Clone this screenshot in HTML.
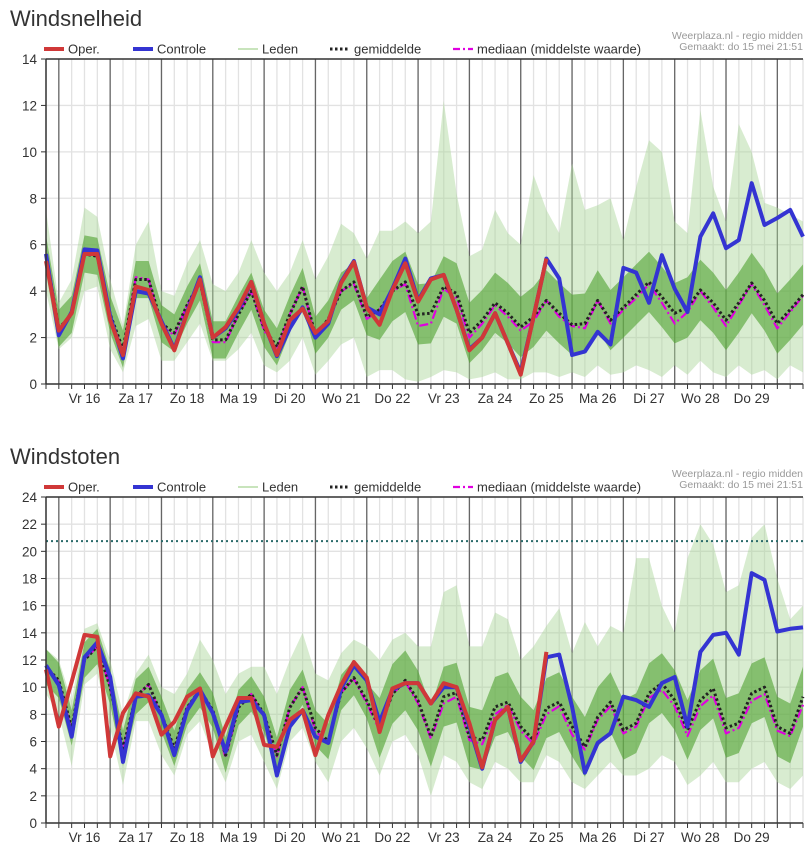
<!DOCTYPE html>
<html><head><meta charset="utf-8">
<style>
html,body{margin:0;padding:0;background:#fff;}
svg{display:block;font-family:"Liberation Sans",sans-serif;}
</style></head>
<body>
<svg id="root" width="805" height="849" viewBox="0 0 805 849" xmlns="http://www.w3.org/2000/svg"></svg>
<script>
// ---------- shared data ----------
const dayLabels = ["Vr 16","Za 17","Zo 18","Ma 19","Di 20","Wo 21","Do 22","Vr 23","Za 24","Zo 25","Ma 26","Di 27","Wo 28","Do 29"];
const ticks1 = [0,2,4,6,8,10,12,14];
const ticks2 = [0,2,4,6,8,10,12,14,16,18,20,22,24];
// ---------- Windsnelheid ----------
const oper1 = [5.3,2.3,3.05,5.6,5.6,2.75,1.25,4.2,4.05,2.6,1.45,3.05,4.5,2.0,2.45,3.3,4.4,2.6,1.25,2.75,3.25,2.2,2.7,4.35,5.25,3.3,2.55,4.05,5.2,3.55,4.5,4.7,3.2,1.45,2.0,3.05,1.75,0.4,2.9,5.4];
const ctrl1 = [5.6,2.1,3.1,5.8,5.75,2.9,1.1,4.0,3.9,2.7,1.5,3.1,4.6,2.0,2.4,3.2,4.4,2.6,1.2,2.4,3.3,2.0,2.6,4.4,5.3,3.3,3.0,4.1,5.4,3.6,4.55,4.7,3.2,1.5,2.0,3.05,1.75,0.5,2.9,5.4,4.55,1.25,1.4,2.25,1.7,5.0,4.8,3.5,5.55,4.1,3.1,6.35,7.35,5.85,6.2,8.65,6.85,7.15,7.5,6.35];
const mean1 = [5.6,2.4,3.0,5.6,5.5,3.0,1.5,4.5,4.5,2.6,2.2,3.4,4.4,1.9,1.9,3.0,4.0,2.4,1.6,3.0,4.2,2.1,2.8,4.0,4.4,2.9,3.2,4.0,4.4,3.0,3.05,4.2,3.9,2.2,2.75,3.5,3.05,2.45,2.9,3.6,3.05,2.55,2.6,3.6,2.75,3.3,3.85,4.4,3.75,3.05,3.3,4.05,3.5,2.75,3.5,4.35,3.6,2.6,3.2,3.85];
const median1 = [5.6,2.3,3.0,5.6,5.5,2.9,1.4,4.6,4.5,2.5,2.1,3.4,4.4,1.8,1.8,3.0,4.0,2.3,1.5,3.0,4.2,2.0,2.8,4.0,4.3,2.8,3.2,4.0,4.3,2.5,2.6,4.1,3.7,2.0,2.6,3.4,2.9,2.3,2.7,3.6,2.9,2.5,2.4,3.6,2.6,3.2,3.7,4.3,3.5,2.6,3.1,4.0,3.3,2.5,3.4,4.3,3.4,2.4,3.1,3.8];
const hi1 = [7.5,3.5,4.5,7.6,7.2,4.5,2.5,6.0,7.0,4.0,3.8,5.2,6.2,4.3,4.0,4.8,6.2,4.8,4.0,4.8,6.2,4.5,5.5,6.9,6.5,5.4,6.6,6.6,7.0,6.5,7.0,12.2,8.2,5.5,5.8,7.5,6.5,6.0,9.0,7.5,6.5,9.5,7.5,7.7,8.0,6.2,8.5,10.5,10.0,7.0,6.5,11.8,8.5,7.0,11.2,10.0,7.8,7.6,7.3,7.0];
const lo1 = [4.0,1.5,2.0,4.0,4.2,1.5,0.5,2.5,2.8,1.0,1.0,1.8,2.6,1.0,1.0,1.5,2.2,0.8,0.5,1.0,2.0,0.4,1.0,1.7,2.0,0.3,0.6,0.6,0.2,0.1,0.3,0.6,0.5,0.2,0.3,0.5,0.2,0.2,0.5,0.5,0.3,0.5,0.3,0.8,0.4,0.5,0.8,0.6,0.3,0.8,0.4,1.0,0.5,0.3,0.8,0.4,0.6,0.2,0.8,0.5];
// ---------- Windstoten ----------
const oper2 = [11.3,7.1,10.4,13.85,13.7,4.9,8.1,9.55,9.3,6.5,7.45,9.3,9.9,4.9,7.1,9.2,9.2,5.75,5.6,7.6,8.3,5.0,7.95,10.15,11.85,10.7,6.7,9.9,10.3,10.3,8.8,10.3,10.0,7.35,4.1,7.6,8.55,4.6,6.0,12.6];
const ctrl2 = [11.6,10.15,6.35,12.2,13.3,10.75,4.5,9.3,9.4,7.95,5.0,8.3,9.8,8.1,5.25,8.9,9.05,7.95,3.5,7.1,8.3,6.35,5.9,9.9,11.6,10.5,7.45,9.8,10.3,10.3,8.8,10.0,10.0,7.1,4.0,7.6,8.55,4.5,6.0,12.2,12.4,8.55,3.7,5.9,6.6,9.3,9.05,8.55,10.3,10.75,7.1,12.6,13.85,14.0,12.4,18.4,17.9,14.1,14.3,14.4];
const mean2 = [11.5,10.5,7.0,12.0,13.0,10.0,5.5,9.3,10.2,8.0,5.5,8.5,9.8,8.3,5.0,8.5,9.5,8.0,5.0,8.5,10.0,7.0,6.0,9.6,10.7,9.0,7.0,9.5,10.5,9.0,6.35,9.3,9.6,6.35,6.1,8.55,8.9,7.1,6.1,8.45,8.9,7.1,5.6,7.8,8.9,6.85,7.35,9.55,10.3,9.05,6.85,9.05,9.9,7.0,7.35,9.55,10.0,7.1,6.6,9.3];
const median2 = [11.6,10.4,6.8,12.0,13.0,10.0,5.3,9.3,10.2,7.8,5.3,8.5,9.8,8.1,4.8,8.5,9.5,7.8,4.9,8.5,10.0,6.8,5.8,9.6,10.6,8.8,6.8,9.5,10.4,8.8,6.2,8.8,9.3,6.1,5.8,8.0,8.7,6.8,5.8,8.0,8.6,6.5,5.4,7.6,8.6,6.6,7.1,9.2,9.8,8.6,6.4,8.6,9.4,6.6,7.0,9.0,9.5,6.8,6.4,8.7];
const hi2 = [12.8,12,9,14.3,14.7,12,8,11,12.4,10,9.5,11,13.5,12,9.5,11,11.5,11.5,9.5,12,14,11,10.5,12.5,13.5,13,12,13.5,14,13,13,17,17.5,13,13,15.5,15,12,13,14.5,15.8,12.5,14.8,13,14.5,14,19.5,19.5,16,14,19.5,22,20.5,17,17.5,21,22,18,15,16];
const lo2 = [9.5,8,4.2,10.2,11,7,2.8,7.5,7.5,5,3.5,6.5,7.5,5,3,6,6.5,4.5,2.5,6,7,4.5,3,6,7,5.5,3.5,6,6.5,5,2,5,4.5,3,2.5,4.5,4,3,3,5,4.5,3,2.5,3.5,4.5,3.5,3.5,4,5,4.5,2.8,3.5,4.5,3,3,4,4.5,3,2.5,3.5];
const threshold2 = 20.75;

const NS = "http://www.w3.org/2000/svg";
const root = document.getElementById('root');
function mk(tag, attrs, parent){
  const e = document.createElementNS(NS, tag);
  for (const k in attrs) e.setAttribute(k, attrs[k]);
  (parent||root).appendChild(e);
  return e;
}
const X0 = 46, XSTEP = (803-46)/59;
function xs(i){ return X0 + i*XSTEP; }

function chart(cfg){
  const g = mk('g', {});
  
  
  const top = cfg.top, bot = cfg.bot, vmax = cfg.vmax;
  const ys = v => bot - v*(bot-top)/vmax;
  const t = mk('text', {x:10, y:cfg.top-33, 'font-size':22, fill:'#333'}, g);
  t.textContent = cfg.title;
  
  
  const s1 = mk('text', {x:803, y:cfg.top-20, 'font-size':10.5, fill:'#999', 'text-anchor':'end'}, g);
  s1.textContent = 'Weerplaza.nl - regio midden';
  
  
  const s2 = mk('text', {x:803, y:cfg.top-9, 'font-size':10.5, fill:'#999', 'text-anchor':'end'}, g);
  s2.textContent = 'Gemaakt: do 15 mei 21:51';
  
  
  for (let i=0;i<60;i++){
    const gl = mk('line', {x1:xs(i), x2:xs(i), y1:top, y2:bot, stroke:'#e2e2e2', 'stroke-width':1.3}, g);
    
    
    const tk = mk('line', {x1:xs(i), x2:xs(i), y1:bot, y2:bot+5, stroke:'#333', 'stroke-width':1}, g);
    
    
  }
  cfg.ticks.forEach(v=>{
    const hl = mk('line', {x1:X0, x2:803, y1:ys(v), y2:ys(v), stroke:'#e2e2e2', 'stroke-width':1.3}, g);
    
    
    const tk = mk('line', {x1:X0-5, x2:X0, y1:ys(v), y2:ys(v), stroke:'#333'}, g);
    
    
    const tl = mk('text', {x:37, y:ys(v)+5, 'font-size':13.5, fill:'#333', 'text-anchor':'end'}, g);
    tl.textContent = v;
    
    
  });
  for (let k=0;k<15;k++){
    const i = 1+4*k;
    const dl = mk('line', {x1:xs(i), x2:xs(i), y1:top, y2:bot, stroke:'#666', 'stroke-width':1.3}, g);
    
    
  }
  dayLabels.forEach((d,k)=>{
    const tl = mk('text', {x:xs(3+4*k), y:bot+19, 'font-size':13.5, fill:'#333', 'text-anchor':'middle'}, g);
    tl.textContent = d;
    
    
  });
  const n = cfg.hi.length;
  let d = '';
  for (let i=0;i<n;i++) d += (i?'L':'M')+xs(i).toFixed(1)+','+ys(cfg.hi[i]).toFixed(1);
  for (let i=n-1;i>=0;i--) d += 'L'+xs(i).toFixed(1)+','+ys(cfg.lo[i]).toFixed(1);
  const env = mk('path', {d:d+'Z', fill:'#a9d496', 'fill-opacity':0.45}, g);
  
  
  let c = '';
  for (let i=0;i<n;i++){ const w = i<26?cfg.coreA:cfg.coreB; c += (i?'L':'M')+xs(i).toFixed(1)+','+ys(cfg.mean[i]+w).toFixed(1); }
  for (let i=n-1;i>=0;i--){ const w = i<26?cfg.coreA:cfg.coreB; c += 'L'+xs(i).toFixed(1)+','+ys(Math.max(0,cfg.mean[i]-w)).toFixed(1); }
  const core = mk('path', {d:c+'Z', fill:'#4fa22e', 'fill-opacity':0.6}, g);
  
  
  function line(arr, attrs, name){
    let p = '';
    arr.forEach((v,i)=>{ p += (i?'L':'M')+xs(i).toFixed(1)+','+ys(v).toFixed(1); });
    const e = mk('path', Object.assign({d:p, fill:'none', 'stroke-linejoin':'round'}, attrs), g);
    
    
  }
  line(cfg.median, {stroke:'#e000e0', 'stroke-width':2.2, 'stroke-dasharray':'9,3,2,3'}, 'median-line');
  line(cfg.mean, {stroke:'#222', 'stroke-width':3, 'stroke-dasharray':'2.5,2.5'}, 'mean-line');
  line(cfg.ctrl, {stroke:'#3434d2', 'stroke-width':4}, 'control-line');
  line(cfg.oper, {stroke:'#d03838', 'stroke-width':4}, 'oper-line');
  if (cfg.threshold !== undefined){
    const th = mk('line', {x1:X0, x2:803, y1:ys(cfg.threshold), y2:ys(cfg.threshold), stroke:'#2a6a6a', 'stroke-width':2, 'stroke-dasharray':'2,3'}, g);
    
    
  }
  const ax = mk('line', {x1:X0, x2:X0, y1:top, y2:bot, stroke:'#333', 'stroke-width':1.5}, g);
  
  
  const bx = mk('line', {x1:X0, x2:803, y1:bot, y2:bot, stroke:'#333', 'stroke-width':1.5}, g);
  
  
  const tx = mk('line', {x1:X0, x2:803, y1:top, y2:top, stroke:'#333', 'stroke-width':1.5}, g);
  
  
  const ly = top-10;
  const lg = mk('g', {}, g);
  
  
  const items = [
    {x:44, label:'Oper.', st:{stroke:'#d03838','stroke-width':4}},
    {x:133, label:'Controle', st:{stroke:'#3434d2','stroke-width':4}},
    {x:238, label:'Leden', st:{stroke:'#b5dca5','stroke-width':1.5}},
    {x:330, label:'gemiddelde', st:{stroke:'#222','stroke-width':3,'stroke-dasharray':'2.5,2.5'}},
    {x:453, label:'mediaan (middelste waarde)', st:{stroke:'#e000e0','stroke-width':2.2,'stroke-dasharray':'7,3,2,3'}}
  ];
  items.forEach(it=>{
    const ln = mk('line', Object.assign({x1:it.x, x2:it.x+20, y1:ly, y2:ly}, it.st), lg);
    
    
    const tt = mk('text', {x:it.x+24, y:ly+4.5, 'font-size':13, fill:'#333'}, lg);
    tt.textContent = it.label;
    
    
  });
}

chart({name:'windsnelheid-chart', title:'Windsnelheid', top:59, bot:384, vmax:14, ticks:ticks1,
  oper:oper1, ctrl:ctrl1, mean:mean1, median:median1, hi:hi1, lo:lo1, coreA:0.8, coreB:1.3});
chart({name:'windstoten-chart', title:'Windstoten', top:497, bot:823, vmax:24, ticks:ticks2,
  oper:oper2, ctrl:ctrl2, mean:mean2, median:median2, hi:hi2, lo:lo2, coreA:1.3, coreB:2.2, threshold:threshold2});
</script>
</body></html>
